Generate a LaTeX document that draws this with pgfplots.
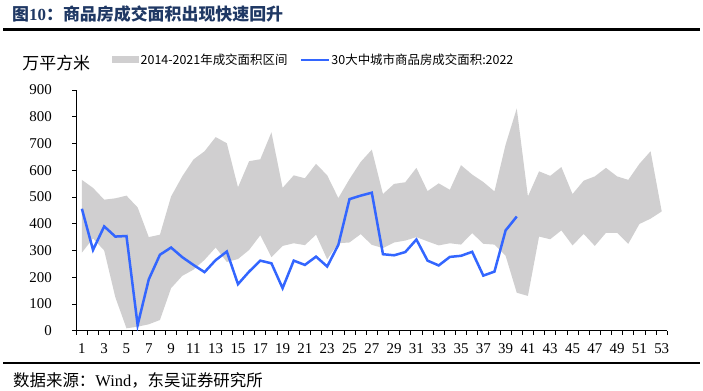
\documentclass[border=0pt]{standalone}
\usepackage{fontspec}
\setmainfont{Liberation Serif}
\newfontfamily\cjk{Noto Sans CJK SC}
\usepackage{pgfplots}
\pgfplotsset{compat=1.18}
\usepgfplotslibrary{fillbetween}
\definecolor{band}{RGB}{208,207,208}
\definecolor{line22}{RGB}{51,102,255}
\definecolor{navy}{RGB}{31,56,100}
\begin{document}
\begin{tikzpicture}
\node[anchor=west, inner sep=0pt, text=navy] at (12bp,-14bp) {\cjk\bfseries\fontsize{17}{20}\selectfont 图{\rmfamily\bfseries 10}：商品房成交面积出现快速回升};
\draw[line width=2.7bp] (3bp,-29.7bp) -- (700bp,-29.7bp);
\draw[line width=2.3bp] (3bp,-363bp) -- (700bp,-363bp);
\node[anchor=west, inner sep=0pt] at (13bp,-380bp) {\cjk\fontsize{16.5}{19}\selectfont 数据来源：{\rmfamily Wind}，东吴证券研究所};
\node[inner sep=0pt] at (56.3bp,-63bp) {\cjk\fontsize{17}{20}\selectfont 万平方米};
\begin{axis}[
  at={(76.3bp,-330.7bp)}, anchor=south west,
  scale only axis, width=591bp, height=240.7bp,
  xmin=0.5, xmax=53.5, ymin=0, ymax=900,
  axis lines*=left, axis line style={-, line width=0.8bp},
  tick align=outside,
  ytick={0,100,...,900},
  major tick length=4bp,
  xtick={0.5,1.5,...,53.5}, xticklabels={},
  extra x ticks={1,3,...,53},
  extra x tick labels={1,3,5,7,9,11,13,15,17,19,21,23,25,27,29,31,33,35,37,39,41,43,45,47,49,51,53},
  extra x tick style={major tick length=0pt},
  tick style={line width=0.8bp, black},
  /pgf/number format/assume math mode=true,
  ticklabel style={font=\fontsize{15}{17}\selectfont},
  yticklabel style={anchor=east, inner sep=0pt, xshift=-20.3bp},
  xticklabel style={anchor=north, inner sep=0pt, yshift=-12.6bp},
  legend columns=2,
  legend style={at={(0.0609,1.1267)}, anchor=west, draw=none, fill=none, inner sep=0pt,
    font=\cjk\fontsize{12.5}{15}\selectfont, nodes={inner sep=1.5bp},
    /tikz/every even column/.append style={column sep=11bp}},
  legend cell align=left,
]
\addplot[name path=up, draw=none, forget plot] coordinates {
(1,564)(2,534)(3,490)(4,495)(5,505)(6,461)(7,350)(8,359)(9,502)(10,577)
(11,640)(12,671)(13,724)(14,701)(15,536)(16,634)(17,641)(18,742)(19,534)(20,581)
(21,570)(22,624)(23,581)(24,496)(25,567)(26,631)(27,677)(28,511)(29,549)(30,555)
(31,609)(32,522)(33,551)(34,527)(35,619)(36,584)(37,556)(38,521)(39,696)(40,831)
(41,502)(42,596)(43,579)(44,612)(45,511)(46,561)(47,577)(48,609)(49,577)(50,564)
(51,624)(52,671)(53,446)};
\addplot[name path=lo, draw=none, forget plot] coordinates {
(1,292)(2,345)(3,300)(4,125)(5,9)(6,15)(7,24)(8,40)(9,159)(10,205)
(11,228)(12,265)(13,311)(14,257)(15,268)(16,302)(17,357)(18,275)(19,317)(20,327)
(21,320)(22,359)(23,267)(24,327)(25,330)(26,361)(27,321)(28,309)(29,330)(30,337)
(31,350)(32,334)(33,319)(34,327)(35,322)(36,365)(37,325)(38,322)(39,280)(40,142)
(41,130)(42,352)(43,342)(44,375)(45,319)(46,362)(47,317)(48,366)(49,366)(50,325)
(51,399)(52,419)(53,446)};
\addplot[band, draw=none, area legend,
  legend image code/.code={\fill[band] (0bp,-3.8bp) rectangle (26.7bp,3.8bp);}]
  fill between[of=up and lo];
\addlegendentry{2014-2021年成交面积区间}
\addplot[line22, line width=2.5bp, mark=none,
  legend image code/.code={\draw[line22, line width=2bp] (0bp,0bp) -- (28bp,0bp);}]
  coordinates {
(1,456)(2,302)(3,390)(4,352)(5,354)(6,21)(7,192)(8,284)(9,311)(10,275)
(11,246)(12,219)(13,264)(14,296)(15,174)(16,221)(17,262)(18,252)(19,159)(20,262)
(21,246)(22,277)(23,240)(24,321)(25,492)(26,505)(27,516)(28,286)(29,282)(30,294)
(31,341)(32,262)(33,244)(34,276)(35,280)(36,295)(37,206)(38,221)(39,375)(40,427)};
\addlegendentry{30大中城市商品房成交面积:2022}
\end{axis}
\pgfresetboundingbox
\path[use as bounding box] (0,0) rectangle (703bp,-391bp);
\end{tikzpicture}
\end{document}
